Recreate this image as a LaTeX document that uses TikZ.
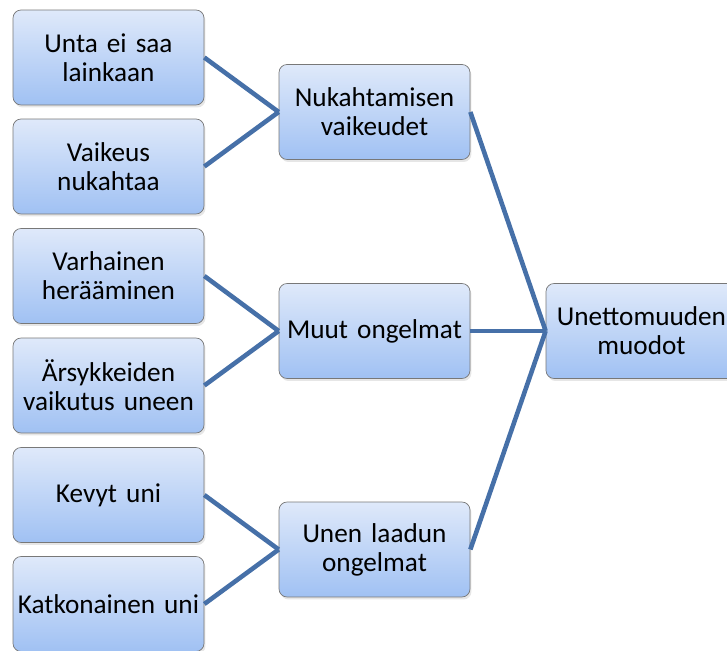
\documentclass[tikz,border=0pt]{standalone}
\usepackage{fontspec}
\setmainfont{Carlito}[WordSpace=0.9]
\usetikzlibrary{shadows}
\definecolor{ubtop}{RGB}{223,233,250}
\definecolor{ubbot}{RGB}{160,193,243}
\definecolor{ubline}{RGB}{70,112,168}
\definecolor{ubedge}{RGB}{120,120,120}

\begin{document}
\begin{tikzpicture}[x=.02cm,y=-.02cm,
  box/.style={draw=ubedge,rounded corners=.16cm,top color=ubtop,bottom color=ubbot,
    minimum width=3.82cm,minimum height=1.9cm,text width=3.7cm,align=center,inner sep=0pt,
    font=\fontsize{15.5}{16.5}\selectfont,
    drop shadow={opacity=.2,shadow xshift=.03cm,shadow yshift=-.05cm}},
  link/.style={ubline,line width=2.6pt}]
  \useasboundingbox (0,0) rectangle (727,651);
  % left column
  \node[box] (none)   at (108.5,57.5) {Unta ei saa\\lainkaan};
  \node[box] (hard)   at (108.5,166.5) {Vaikeus\\nukahtaa};
  \node[box] (early)  at (108.5,276) {Varhainen\\herääminen};
  \node[box] (stim)   at (108.5,385.5) {Ärsykkeiden\\vaikutus uneen};
  \node[box] (light)  at (108.5,495) {Kevyt uni};
  \node[box] (broken) at (108.5,604) {Katkonainen uni};
  % middle column
  \node[box] (fall)    at (374.5,112) {Nukahtamisen\\vaikeudet};
  \node[box] (other)   at (374.5,331) {Muut ongelmat};
  \node[box] (quality) at (374.5,549.5) {Unen laadun\\ongelmat};
  % root
  \node[box] (forms) at (641.5,331) {Unettomuuden\\muodot};
  \foreach \a/\b in {none/fall,hard/fall,early/other,stim/other,light/quality,broken/quality}
    \draw[link] (\a.east) -- (\b.west);
  \foreach \a in {fall,other,quality}
    \draw[link] (\a.east) -- (forms.west);
\end{tikzpicture}
\end{document}
